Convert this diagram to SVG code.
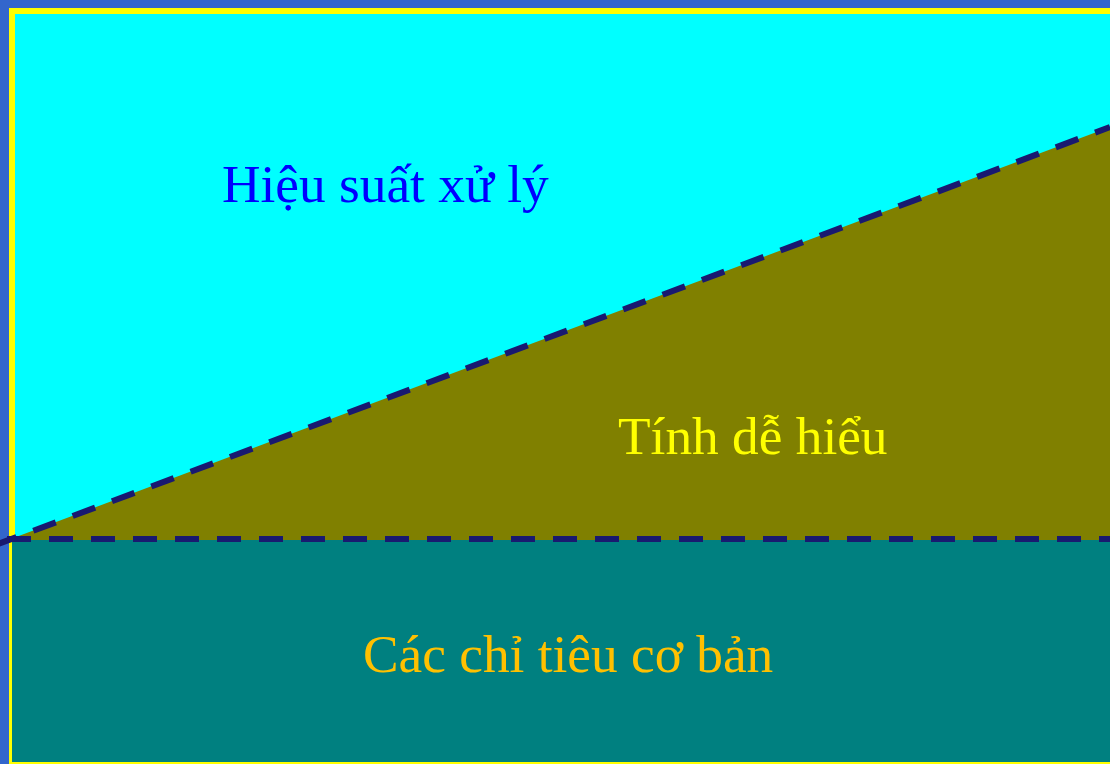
<svg xmlns="http://www.w3.org/2000/svg" width="1110" height="764" viewBox="0 0 1110 764">
  <style>
    .lbl { font-family: "Liberation Serif", "Times New Roman", serif; font-size: 53.33px; }
    .dash { stroke: #191970; stroke-width: 6; stroke-dasharray: 24 18; fill: none; stroke-linecap: butt; }
  </style>
  <rect x="0" y="0" width="1110" height="764" fill="#3366cc"/>
  <g id="frame">
    <rect x="12" y="11" width="1110" height="754" fill="#00ffff" stroke="#ffff00" stroke-width="6"/>
  </g>
  <g id="region-hieu-suat">
    <text class="lbl" x="222" y="202" fill="#0000ff">Hiệu suất xử lý</text>
  </g>
  <g id="region-tinh-de-hieu">
    <polygon points="8,540 1110,540 1110,127" fill="#808000"/>
    <text class="lbl" x="618" y="454" fill="#ffff00">Tính dễ hiểu</text>
  </g>
  <g id="region-chi-tieu">
    <rect x="12" y="540" width="1100" height="222" fill="#008080"/>
    <text class="lbl" x="363" y="672" fill="#ffc000">Các chỉ tiêu cơ bản</text>
  </g>
  <g id="connectors">
    <line class="dash" x1="7" y1="539" x2="1110" y2="539"/>
    <line class="dash" x1="-6" y1="545.5" x2="1110" y2="127"/>
  </g>
</svg>
